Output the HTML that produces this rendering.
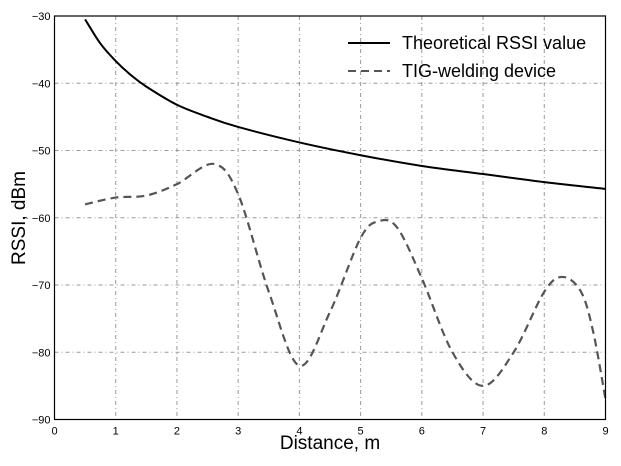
<!DOCTYPE html>
<html><head><meta charset="utf-8"><style>
body{margin:0;background:#fff}
svg{display:block;font-family:"Liberation Sans",sans-serif}
</style></head><body>
<svg id="chart" width="621" height="466">
<g id="grid"></g>
<g id="series"></g>
<rect x="54.5" y="16" width="551" height="403.5" fill="none" stroke="#000" stroke-width="1.2"/>
<g id="ticks"></g>
<text x="330" y="449" font-size="19" text-anchor="middle">Distance, m</text>
<text transform="translate(25,218) rotate(-90)" font-size="19" text-anchor="middle">RSSI, dBm</text>
<g>
<g>
<line x1="348" y1="43" x2="390" y2="43" stroke="#000" stroke-width="2"/>
<text x="402" y="49" font-size="18">Theoretical RSSI value</text></g>
<g>
<line x1="348" y1="71" x2="390" y2="71" stroke="#555" stroke-width="2" stroke-dasharray="8,5"/>
<text x="402" y="77" font-size="18">TIG-welding device</text></g>
</g>
</svg>
<script>
const xTicks=[0,1,2,3,4,5,6,7,8,9];
const yTicks=[-30,-40,-50,-60,-70,-80,-90];
const theoX=[0.5,0.75,1,1.25,1.5,2,2.5,3,4,5,6,7,8,9];
const theoY=[-30.5,-34.1,-36.7,-38.8,-40.5,-43.2,-45,-46.5,-48.8,-50.7,-52.3,-53.5,-54.7,-55.7];
const tigX=[0.5,1,1.5,2,2.6,3,3.5,4,4.5,5,5.3,5.6,6,6.5,7,7.5,8,8.3,8.6,8.8,9];
const tigY=[-58,-57,-56.7,-55,-52,-56.5,-71,-82,-74,-63,-60.5,-61.5,-69,-80,-85,-80,-71,-68.8,-71,-77,-87];
const X0=54.5,X1=605.5,Y0=16,Y1=419.5;
const sx=v=>X0+(v-0)/9*(X1-X0);
const sy=v=>Y0+(-30-v)/60*(Y1-Y0);
const NS="http://www.w3.org/2000/svg";
const grid=document.getElementById('grid'),ticks=document.getElementById('ticks'),series=document.getElementById('series');
function mk(t,a,p){const e=document.createElementNS(NS,t);for(const k in a)e.setAttribute(k,a[k]);p.appendChild(e);return e;}
xTicks.forEach(v=>{
 if(v>0&&v<9){const g=mk('line',{x1:sx(v),x2:sx(v),y1:Y0,y2:Y1,stroke:'#999','stroke-dasharray':'4,3,1,3'},grid);
 
 }
 const t=mk('text',{x:sx(v),y:Y1+15,'font-size':11,'text-anchor':'middle'},ticks);t.textContent=v;
 
 
});
yTicks.forEach(v=>{
 if(v>-90&&v<-30){const g=mk('line',{x1:X0,x2:X1,y1:sy(v),y2:sy(v),stroke:'#999','stroke-dasharray':'4,3,1,3'},grid);
 
 }
 const t=mk('text',{x:X0-4,y:sy(v)+4,'font-size':11,'text-anchor':'end'},ticks);t.textContent=String(v).replace('-','\u2212');
 
 
});
function spline(xs,ys){
 const p=xs.map((x,i)=>[sx(x),sy(ys[i])]);let d='M'+p[0];
 for(let i=0;i<p.length-1;i++){const a=p[i-1]||p[i],b=p[i],c=p[i+1],e=p[i+2]||c;
  const c1=[b[0]+(c[0]-a[0])/6,b[1]+(c[1]-a[1])/6],c2=[c[0]-(e[0]-b[0])/6,c[1]-(e[1]-b[1])/6];
  d+=' C'+c1+' '+c2+' '+c;}
 return d;}
const l1=mk('path',{d:spline(theoX,theoY),fill:'none',stroke:'#000','stroke-width':2},series);


const l2=mk('path',{d:spline(tigX,tigY),fill:'none',stroke:'#555','stroke-width':2.2,'stroke-dasharray':'8,5'},series);


</script>
</body></html>
